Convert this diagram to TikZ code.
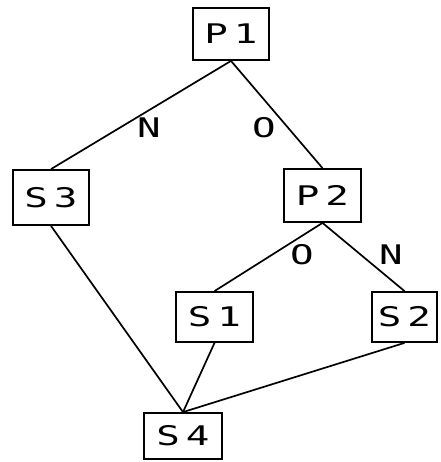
\documentclass[tikz,border=0pt]{standalone}
\usepackage{fontspec}
\newfontfamily\dotmono[FakeStretch=1.45,LetterSpace=22]{DejaVu Sans Mono}
\tikzset{
  box/.style={draw, line width=1.8pt, inner sep=0pt, font=\dotmono\fontsize{27}{27}\selectfont},
  lbl/.style={inner sep=0pt, font=\dotmono\fontsize{27}{27}\selectfont},
  edge/.style={line width=1.7pt}
}
\begin{document}
\begin{tikzpicture}[x=1pt,y=-1pt]
\useasboundingbox (0,0) rectangle (440,462);
\node[box, minimum width=76pt, minimum height=52pt] (P1) at (231,34) {P1};
\node[box, minimum width=76pt, minimum height=55pt] (S3) at (51,197.5) {S3};
\node[box, minimum width=77pt, minimum height=53pt] (P2) at (322.5,195.5) {P2};
\node[box, minimum width=77pt, minimum height=50pt] (S1) at (214.5,317) {S1};
\node[box, minimum width=65pt, minimum height=50pt] (S2) at (404.5,317) {S2};
\node[box, minimum width=78pt, minimum height=46pt] (S4) at (183,436) {S4};
\node[lbl] (l1) at (149,128) {N};
\node[lbl] (l2) at (264,128) {O};
\node[lbl] (l3) at (302,255) {O};
\node[lbl] (l4) at (391,255) {N};
\draw[edge] (P1.south) -- (S3.north);
\draw[edge] (P1.south) -- (P2.north);
\draw[edge] (P2.south) -- (S1.north);
\draw[edge] (P2.south) -- (S2.north);
\draw[edge] (S3.south) -- (S4.north);
\draw[edge] (S1.south) -- (S4.north);
\draw[edge] (S2.south) -- (S4.north);
\end{tikzpicture}
\end{document}
